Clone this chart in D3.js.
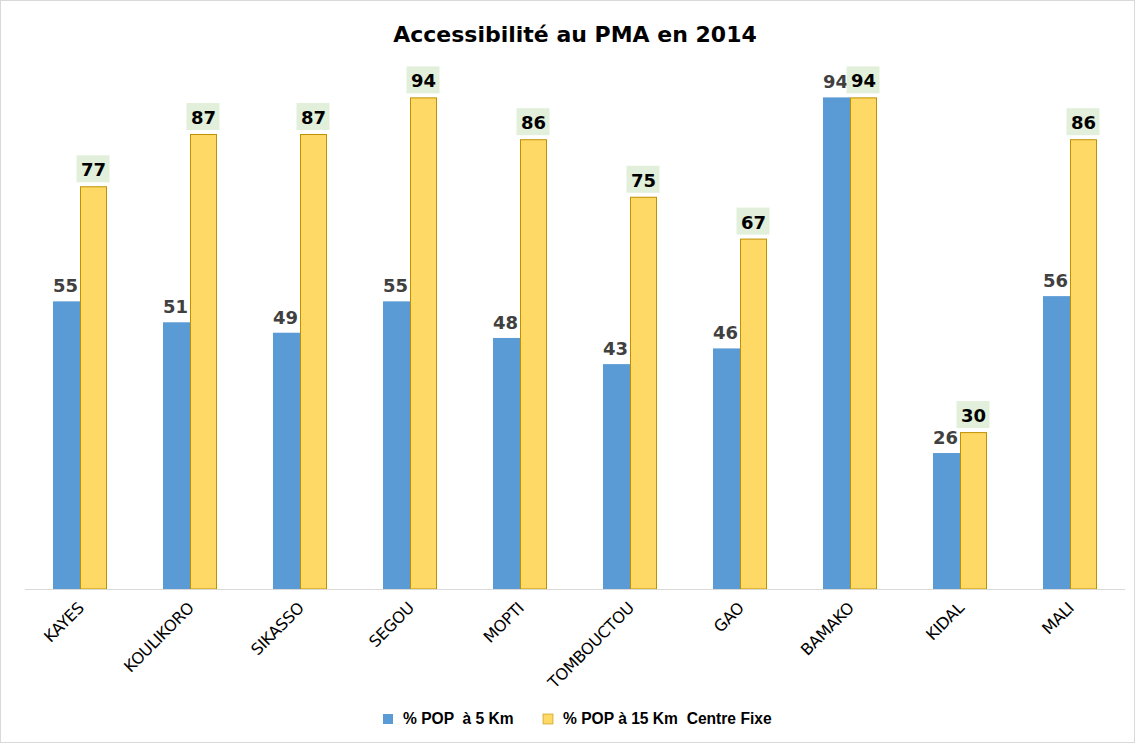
<!DOCTYPE html>
<html><head><meta charset="utf-8">
<script src="https://cdn.jsdelivr.net/npm/d3@7"></script>
<style>body{margin:0;background:#fff}svg{display:block}</style>
</head><body>
<script>
const categories = ["KAYES","KOULIKORO","SIKASSO","SEGOU","MOPTI","TOMBOUCTOU","GAO","BAMAKO","KIDAL","MALI"];
const pop5km = [55,51,49,55,48,43,46,94,26,56];
const pop15km = [77,87,87,94,86,75,67,94,30,86];
const seriesNames = ["% POP  à 5 Km","% POP à 15 Km  Centre Fixe"];
const title = "Accessibilité au PMA en 2014";

const W = 1135, H = 743;
const svg = d3.select("body").append("svg").attr("width", W).attr("height", H);
svg.append("rect").attr("x",0.5).attr("y",0.5).attr("width",W-1).attr("height",H-1).attr("fill","#fff").attr("stroke","#d9d9d9");

const x = d3.scaleBand().domain(categories).range([25,1125]).paddingInner(0).paddingOuter(0);
const x1 = d3.scaleBand().domain([0,1]).range([x.bandwidth()/2-27, x.bandwidth()/2+27]);
const y = d3.scaleLinear().domain([0,100]).range([589,66]);

svg.append("text").attr("x",575).attr("y",42).attr("text-anchor","middle")
  .attr("font-family","DejaVu Sans").attr("font-weight","bold").attr("font-size",22).attr("fill","#000").text(title);

const g = svg.append("g");
const groups = g.selectAll("g.cat").data(categories).enter().append("g")
  .attr("transform", d => `translate(${x(d)},0)`);

groups.append("rect").attr("x", x1(0)).attr("width", x1.bandwidth())
  .attr("y", (d,i)=>y(pop5km[i])).attr("height",(d,i)=>y(0)-y(pop5km[i])).attr("fill","#5b9bd5");
groups.append("rect").attr("x", x1(1)+0.5).attr("width", x1.bandwidth()-1)
  .attr("y", (d,i)=>y(pop15km[i])+0.5).attr("height",(d,i)=>y(0)-y(pop15km[i])-0.5)
  .attr("fill","#ffd966").attr("stroke","#bf9000").attr("stroke-width",1);

// axis line
svg.append("line").attr("x1",25).attr("x2",1125).attr("y1",589.5).attr("y2",589.5).attr("stroke","#d9d9d9");

// blue labels
groups.append("text").attr("x", x1(0)+x1.bandwidth()/2 - 1).attr("y",(d,i)=>y(pop5km[i])-9)
  .attr("text-anchor","middle").attr("font-family","DejaVu Sans").attr("font-weight","bold")
  .attr("font-size",18).attr("fill","#404040").text((d,i)=>pop5km[i]);
// yellow labels with bg
groups.append("rect").attr("x", x1(1)+x1.bandwidth()/2-17).attr("width",33)
  .attr("y",(d,i)=>y(pop15km[i])-31).attr("height",27).attr("fill","#e2efda");
groups.append("text").attr("x", x1(1)+x1.bandwidth()/2).attr("y",(d,i)=>y(pop15km[i])-10)
  .attr("text-anchor","middle").attr("font-family","DejaVu Sans").attr("font-weight","bold")
  .attr("font-size",18).attr("fill","#000").text((d,i)=>pop15km[i]);

// x labels
const xAxis = d3.axisBottom(x).tickSize(0).tickPadding(0);
const ax = svg.append("g").attr("transform","translate(0,589)").call(xAxis);
ax.select(".domain").remove();
ax.selectAll("text").attr("font-family","DejaVu Sans").attr("font-size",16).attr("fill","#000")
  .attr("text-anchor","end").attr("dy",null).attr("y",0).attr("letter-spacing","-0.3")
  .attr("transform","translate(5,20) rotate(-45)");

// legend
const legend = svg.append("g");
const lx = [383, 543];
const colors = ["#5b9bd5","#ffd966"];
seriesNames.forEach((n,i)=>{
  legend.append("rect").attr("x",lx[i]).attr("y",714).attr("width",10).attr("height",10)
    .attr("fill",colors[i]).attr("stroke", i? "#bf9000":"none").attr("stroke-width",0.6);
  legend.append("text").attr("x",lx[i]+20).attr("y",724).attr("font-family","Liberation Sans")
    .attr("font-weight","bold").attr("font-size",15.6).attr("fill","#000").attr("xml:space","preserve")
    .style("white-space","pre").text(n);
});
</script>
</body></html>
